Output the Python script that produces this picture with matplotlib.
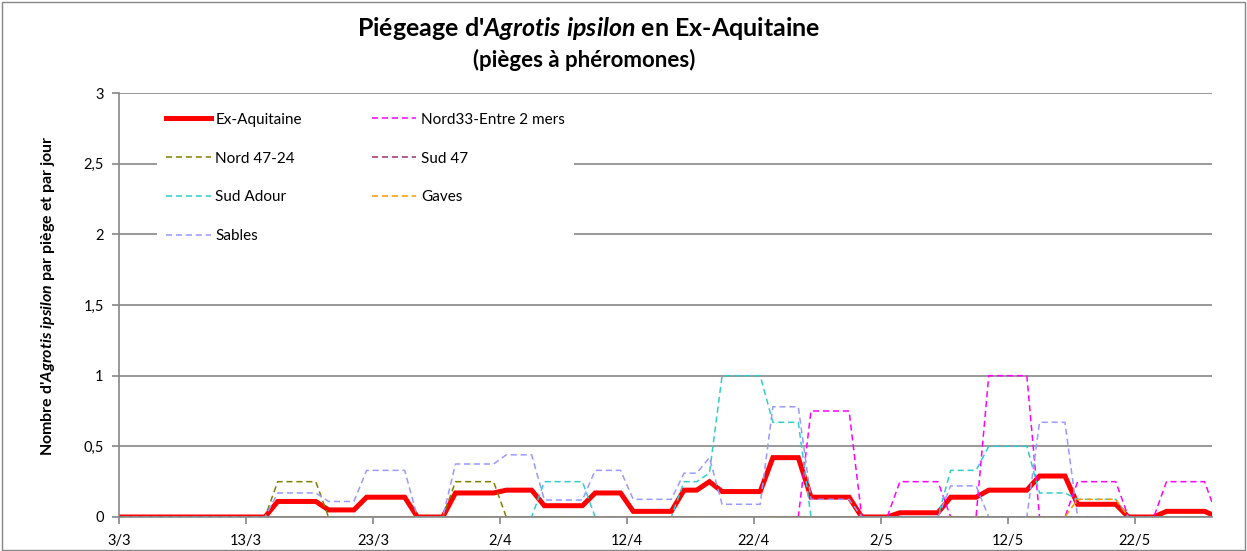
import numpy as np
import pandas as pd
import matplotlib
matplotlib.use("Agg")
import matplotlib.pyplot as plt
from matplotlib.patches import Rectangle
from matplotlib.ticker import FuncFormatter

# reading periods (trap counts, Monday / Thursday), last date is the end
period_start = ["2018-03-02", "2018-03-15", "2018-03-19", "2018-03-22", "2018-03-26",
                "2018-03-29", "2018-04-02", "2018-04-05", "2018-04-09", "2018-04-12",
                "2018-04-16", "2018-04-18", "2018-04-19", "2018-04-23", "2018-04-26",
                "2018-04-30", "2018-05-03", "2018-05-07", "2018-05-10", "2018-05-14",
                "2018-05-17", "2018-05-21", "2018-05-24", "2018-05-28"]
period_end = "2018-05-29"

ex_aquitaine = [0, .11, .05, .14, 0, .17, .19, .08, .17, .04, .19, .25, .18, .42,
                .14, 0, .03, .14, .19, .29, .09, 0, .04, 0]
nord33 = [0, 0, 0, 0, 0, 0, 0, 0, 0, 0, 0, 0, 0, 0,
          .75, 0, .25, 0, 1, 0, .25, 0, .25, 0]
nord47_24 = [0, .25, 0, 0, 0, .25, 0, 0, 0, 0, 0, 0, 0, 0,
             0, 0, 0, 0, 0, 0, 0, 0, 0, 0]
sud47 = [0] * 24
sud_adour = [0, 0, 0, 0, 0, 0, 0, .25, 0, 0, .25, .31, 1, .67,
             0, 0, 0, .33, .5, .17, .125, 0, 0, 0]
gaves = [0, 0, 0, 0, 0, 0, 0, 0, 0, 0, 0, 0, 0, 0,
         0, 0, 0, 0, 0, 0, .125, 0, 0, 0]
sables = [0, .17, .11, .33, 0, .375, .44, .12, .33, .125, .31, .42, .09, .78,
          .125, 0, 0, .22, 0, .67, 0, 0, 0, 0]

tick_dates = ["2018-03-03", "2018-03-13", "2018-03-23", "2018-04-02", "2018-04-12",
              "2018-04-22", "2018-05-02", "2018-05-12", "2018-05-22"]
tick_labels = ["3/3", "13/3", "23/3", "2/4", "12/4", "22/4", "2/5", "12/5", "22/5"]

series = [
    ("Ex-Aquitaine", ex_aquitaine, "#FF0000"),
    ("Nord33-Entre 2 mers", nord33, "#FF00FF"),
    ("Nord 47-24", nord47_24, "#808000"),
    ("Sud 47", sud47, "#993366"),
    ("Sud Adour", sud_adour, "#33CCCC"),
    ("Gaves", gaves, "#FF9900"),
    ("Sables", sables, "#9999FF"),
]

plt.rcParams["font.family"] = ["Lato", "DejaVu Sans"]
plt.rcParams["mathtext.fontset"] = "custom"
plt.rcParams["mathtext.rm"] = "Lato:bold"
plt.rcParams["mathtext.bf"] = "Lato:bold"
plt.rcParams["mathtext.it"] = "Lato:bold:italic"

edges = pd.to_datetime(period_start + [period_end])
lengths = np.diff(edges).astype("timedelta64[D]").astype(int)
days = pd.date_range(period_start[0], periods=lengths.sum(), freq="D") + pd.Timedelta(hours=12)

fig = plt.figure(figsize=(12.47, 5.51), dpi=100)
ax = fig.add_axes([119 / 1247, 1 - 517 / 551, (1212 - 119) / 1247, (517 - 93) / 551])

handles = {}
for name, vals, col in series:
    y = np.repeat(vals, lengths)
    if name == "Ex-Aquitaine":
        ln, = ax.plot(days, y, color=col, lw=3.6, label=name, solid_joinstyle="miter")
    else:
        ln, = ax.plot(days, y, color=col, lw=1.1, ls=(0, (4, 2.5)), label=name)
    handles[name] = ln

ax.set_xlim(pd.Timestamp("2018-03-03"), pd.Timestamp("2018-05-28 02:00"))
ax.set_ylim(0, 3)
ax.set_yticks(np.arange(0, 3.01, 0.5))
ax.yaxis.set_major_formatter(FuncFormatter(lambda v, p: f"{v:g}".replace(".", ",")))
ax.set_xticks(pd.to_datetime(tick_dates))
ax.set_xticklabels(tick_labels)

ax.yaxis.grid(True, color="#868686", lw=1.2)
ax.set_axisbelow(True)
for s in ["top", "right"]:
    ax.spines[s].set_visible(False)
for s in ["left", "bottom"]:
    ax.spines[s].set_color("#868686")
    ax.spines[s].set_linewidth(1.2)
ax.tick_params(axis="both", color="#868686", length=5, width=1.2, labelsize=10.5)
ax.tick_params(axis="x", pad=7)
ax.tick_params(axis="y", pad=6)

order = ["Ex-Aquitaine", "Nord 47-24", "Sud Adour", "Sables",
         "Nord33-Entre 2 mers", "Sud 47", "Gaves"]
leg = ax.legend([handles[n] for n in order], order, ncol=2, loc="upper left",
                bbox_to_anchor=(0.035, 0.975), fontsize=11, frameon=True,
                handlelength=2.9, handletextpad=0.3, columnspacing=4.6,
                labelspacing=1.62, borderpad=0.6, borderaxespad=0)
leg.get_frame().set_facecolor("white")
leg.get_frame().set_edgecolor("none")
leg.get_frame().set_alpha(1)

fig.text(588 / 1247, 1 - 29 / 551, r"Piégeage d'$Agrotis\ ipsilon$ en Ex-Aquitaine",
         ha="center", va="center", fontsize=18, fontweight="bold")
fig.text(584 / 1247, 1 - 60 / 551, "(pièges à phéromones)",
         ha="center", va="center", fontsize=16, fontweight="bold")
fig.text(48 / 1247, 1 - 296 / 551, r"Nombre d'$Agrotis\ ipsilon$ par piège et par jour",
         ha="center", va="center", rotation=90, fontsize=11.5, fontweight="bold")

fig.patches.append(Rectangle((0.002, 0.002), 0.996, 0.994, transform=fig.transFigure,
                             fill=False, edgecolor="#868686", lw=1))

fig.savefig("out.png", dpi=100)
